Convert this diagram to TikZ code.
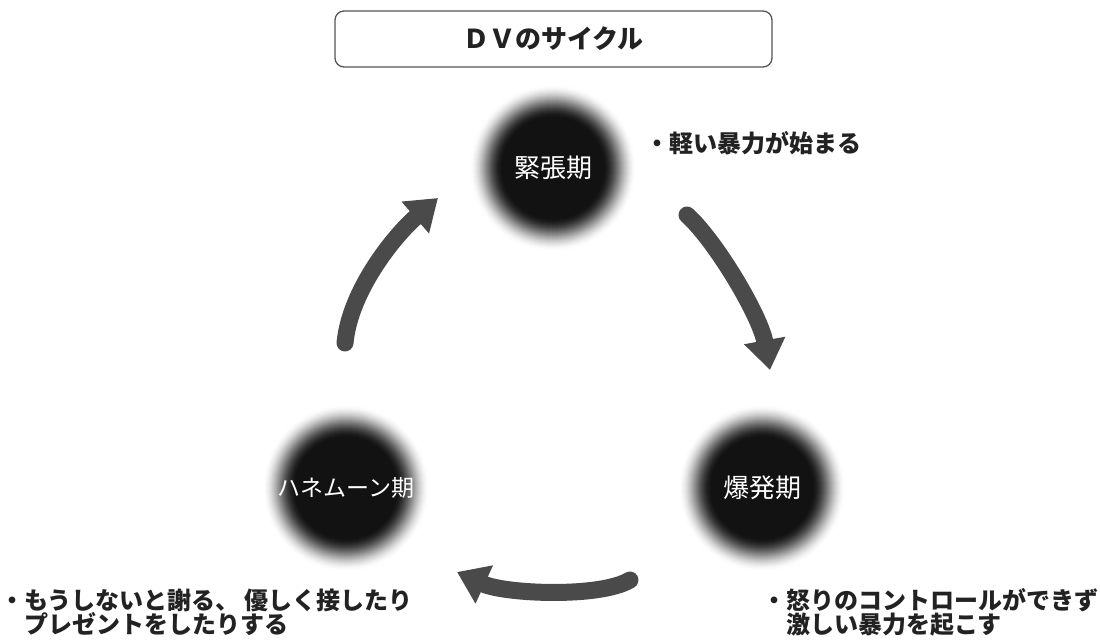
\documentclass[tikz,border=0pt]{standalone}
\usepackage{fontspec}
\setmainfont{Noto Sans CJK JP}
\usetikzlibrary{arrows.meta,backgrounds}
\definecolor{arrowgray}{HTML}{4A4A4A}
\definecolor{txt}{HTML}{222222}
\definecolor{boxline}{HTML}{555555}
\tikzset{
  phase/.style={circle, inner sep=0pt, minimum size=160pt, text=white, font=\fontsize{26}{30}\selectfont},
  cyc/.style={draw=arrowgray, line width=17pt, line cap=round, -{Triangle[length=30pt,width=40pt]}},
  note/.style={inner sep=0pt, anchor=base west, text=txt, font=\bfseries\fontsize{24}{26}\selectfont},
}
\begin{document}
\begin{tikzpicture}[x=1pt,y=-1pt]
\useasboundingbox (0,0) rectangle (1100,642);
\node[draw=boxline, line width=1.3pt, rounded corners=9pt, minimum width=437pt, minimum height=56pt, text=txt, font=\bfseries\fontsize{26}{28}\selectfont] (title) at (553.5,39) {ＤＶのサイクル};

\node[phase] (kin) at (553,168) {緊張期};
\node[phase] (bak) at (762,488) {爆発期};
\node[phase, font=\fontsize{23}{28}\selectfont] (hon) at (346,488) {ハネムーン期};

\begin{scope}[on background layer]
\fill[white] (0,0) rectangle (1100,642);
\foreach \c in {kin,bak,hon}{
  \foreach \r in {84,83,...,1}{
    \pgfmathsetmacro\t{max(0,min(1,(\r-50)/34))}
    \pgfmathsetmacro\p{93*(1-(3*\t*\t-2*\t*\t*\t))}
    \fill[black!\p] (\c.center) circle (\r pt);
  }
}
\end{scope}

\coordinate (a1s) at (345,343);
\coordinate (a1e) at (438,198);
\coordinate (a2s) at (687,215);
\coordinate (a2e) at (770,370);
\coordinate (a3s) at (630,580);
\coordinate (a3e) at (457,572);
\draw[cyc] (a1s) .. controls (350,290) and (395,235) .. (a1e);
\draw[cyc] (a2s) .. controls (715,240) and (760,315) .. (a2e);
\draw[cyc] (a3s) .. controls (600,598) and (505,594) .. (a3e);

\node[note] (n1) at (645,152) {・軽い暴力が始まる};
\node[note] (n2a) at (0,609) {・もうしないと謝る、 優しく接したり};
\node[note] (n2b) at (24,633) {プレゼントをしたりする};
\node[note] (n3a) at (762,609) {・怒りのコントロールができず};
\node[note] (n3b) at (786,633) {激しい暴力を起こす};
\end{tikzpicture}
\end{document}
